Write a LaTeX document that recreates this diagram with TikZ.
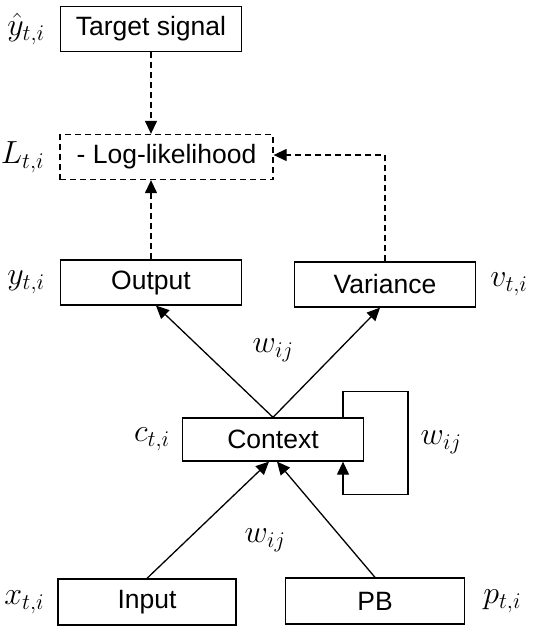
\documentclass[tikz,border=0pt]{standalone}
\usepackage{fix-cm}
\usepackage{fontspec}
\setmainfont{Liberation Sans}
\usetikzlibrary{arrows.meta,calc}
\begin{document}
\begin{tikzpicture}[x=1pt,y=-1pt,
  box/.style={draw,line width=1.3pt,minimum width=181pt,minimum height=45pt,inner sep=0pt,font=\fontsize{26.5}{30}\selectfont},
  dbox/.style={box,dashed,dash pattern=on 6pt off 4pt},
  lbl/.style={inner sep=0pt,font=\fontsize{32}{36}\selectfont},
  conn/.style={line width=1.3pt,-{Triangle[length=13pt,width=12pt]}},
  dconn/.style={conn,dash pattern=on 6pt off 4pt}]
\useasboundingbox (0,0) rectangle (537,637);
\node[box] (target) at (151,29) {Target signal};
\node[dbox,minimum width=213pt] (ll) at (166.5,157) {- Log-likelihood};
\node[box] (output) at (151,282.5) {Output};
\node[box] (variance) at (385,284.5) {Variance};
\node[box,minimum height=43pt] (context) at (273,439.5) {Context};
\node[box,minimum width=178pt,minimum height=46pt] (input) at (147,602) {Input};
\node[box,minimum width=179pt,minimum height=46pt] (pb) at (375,601) {PB};

\node[lbl,anchor=east] (lyh) at ([xshift=-15pt]target.west) {$\hat{y}_{t,i}$};
\node[lbl,anchor=east] (lL) at ([xshift=-15pt]ll.west) {$L_{t,i}$};
\node[lbl,anchor=east] (ly) at ([xshift=-15pt]output.west) {$y_{t,i}$};
\node[lbl,anchor=west] (lv) at ([xshift=14pt]variance.east) {$v_{t,i}$};
\node[lbl,anchor=east] (lc) at ([xshift=-12pt]context.west) {$c_{t,i}$};
\node[lbl,anchor=east] (lx) at ([xshift=-13pt]input.west) {$x_{t,i}$};
\node[lbl,anchor=west] (lp) at ([xshift=18pt]pb.east) {$p_{t,i}$};
\node[lbl] (w1) at (273,350) {$w_{ij}$};
\node[lbl] (w2) at (441,442) {$w_{ij}$};
\node[lbl] (w3) at (265,540) {$w_{ij}$};

\draw[dconn] (target.south) -- (target.south |- ll.north);
\draw[dconn] (output.north) -- (output.north |- ll.south);
\draw[dconn] (variance.north) |- ([yshift=2pt]ll.east);
\draw[conn] (context.north) -- ([xshift=5pt]output.south);
\draw[conn] (context.north) -- ([xshift=-5pt]variance.south);
\draw[conn] (input.north) -- ([xshift=-4pt]context.south);
\draw[conn] (pb.north) -- ([xshift=4pt]context.south);
\draw[conn] ([xshift=70pt]context.north) -- ++(0,-26) -- ++(65,0) -- ++(0,103) -- ++(-65,0) -- ([xshift=70pt]context.south);
\end{tikzpicture}
\end{document}
